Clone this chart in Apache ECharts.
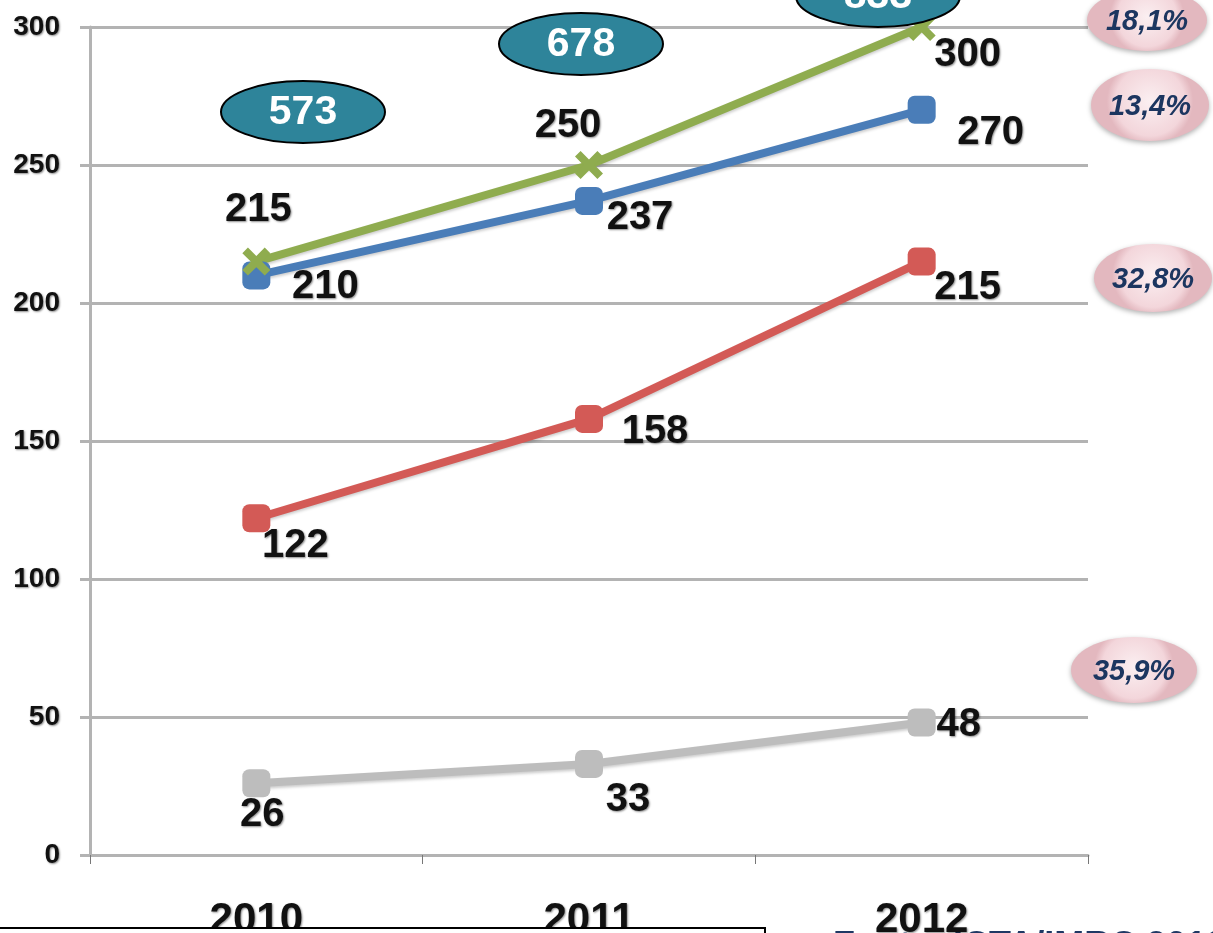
<!DOCTYPE html>
<html>
<head>
<meta charset="utf-8">
<script src="https://cdn.jsdelivr.net/npm/echarts@6/dist/echarts.min.js"></script>
<style>
  html, body { margin: 0; padding: 0; background: #fff; }
  #chart { width: 1213px; height: 933px; }
</style>
</head>
<body>
<div id="chart"></div>
<script>
// data
const years = ['2010', '2011', '2012'];
const greenVals = [215, 250, 300];
const blueVals = [210, 237, 270];
const redVals = [122, 158, 215];
const grayVals = [26, 33, 48];
const yTicks = { min: 0, max: 300, interval: 50 };
const growthLabels = ['18,1%', '13,4%', '32,8%', '35,9%'];
const sourceText = 'Fonte: ICTA/IMRC 2013';

// totals per year for the teal bubbles
const totals = years.map((y, i) => greenVals[i] + blueVals[i] + redVals[i] + grayVals[i]);

const FONT = 'Liberation Sans, Arial, sans-serif';

const labelFont = {
  fontFamily: FONT,
  fontWeight: 'bold',
  color: '#111',
  textShadowColor: 'rgba(0,0,0,0.45)',
  textShadowBlur: 2,
  textShadowOffsetX: 1,
  textShadowOffsetY: 1
};

// per point label offsets [dx, dy] from the marker centre
function withLabels(vals, offsets) {
  return vals.map((v, i) => ({
    value: v,
    label: { offset: offsets[i] }
  }));
}

function lineSeries(name, vals, color, symbol, offsets) {
  return {
    name: name,
    type: 'line',
    data: withLabels(vals, offsets),
    symbol: symbol,
    symbolSize: 28,
    lineStyle: {
      color: color, width: 8,
      shadowColor: 'rgba(0,0,0,0.2)', shadowBlur: 3, shadowOffsetY: 2
    },
    itemStyle: { color: color, borderWidth: 0 },
    label: Object.assign({
      show: true,
      position: 'inside',
      fontSize: 40,
      align: 'center',
      verticalAlign: 'middle'
    }, labelFont),
    emphasis: { disabled: true },
    clip: false,
    z: 3
  };
}

const xMark = 'path://M2,0 L5,3 L8,0 L10,2 L7,5 L10,8 L8,10 L5,7 L2,10 L0,8 L3,5 L0,2 Z';

const pinkFill = {
  type: 'radial', x: 0.5, y: 0.45, r: 0.6,
  colorStops: [
    { offset: 0, color: '#fbeff1' },
    { offset: 0.8, color: '#f3d6db' },
    { offset: 1, color: '#e3b8bf' }
  ]
};

function bubbleText(cx, cy, text, size, color, italic) {
  return {
    type: 'text',
    x: cx,
    y: cy,
    style: {
      text: text,
      fontFamily: FONT,
      fontWeight: 'bold',
      fontStyle: italic ? 'italic' : 'normal',
      fontSize: size,
      fill: color,
      align: 'center',
      verticalAlign: 'middle'
    },
    z: 55
  };
}

function pinkBubble(cx, cy, rx, ry, text) {
  return [{
    type: 'ellipse',
    shape: { cx: cx, cy: cy, rx: rx, ry: ry },
    style: {
      fill: pinkFill,
      shadowBlur: 5, shadowColor: 'rgba(0,0,0,0.3)', shadowOffsetY: 2
    },
    z: 50
  }, bubbleText(cx, cy + 2, text, 29, '#1c3660', true)];
}

function tealBubble(cx, cy, text) {
  return [{
    type: 'ellipse',
    shape: { cx: cx, cy: cy, rx: 82, ry: 31 },
    style: { fill: '#2e849a', stroke: '#000', lineWidth: 2 },
    z: 50
  }, bubbleText(cx, cy + 1, text, 41, '#fff', false)];
}

const chart = echarts.init(document.getElementById('chart'));

const option = {
  animation: false,
  backgroundColor: '#fff',
  grid: { left: 90, right: 125, top: 27, bottom: 78, outerBoundsMode: 'none', containLabel: false },
  xAxis: {
    type: 'category',
    data: years,
    boundaryGap: true,
    axisLine: { lineStyle: { color: '#b3b3b3', width: 3 } },
    axisTick: { show: true, length: 9, lineStyle: { color: '#777', width: 1 } },
    axisLabel: Object.assign({ fontSize: 42, margin: 44 }, labelFont),
    splitLine: { show: false }
  },
  yAxis: {
    type: 'value',
    min: yTicks.min,
    max: yTicks.max,
    interval: yTicks.interval,
    axisLine: { show: true, lineStyle: { color: '#b3b3b3', width: 3 } },
    axisTick: { show: true, length: 10, lineStyle: { color: '#b3b3b3', width: 3 } },
    axisLabel: Object.assign({ fontSize: 28, margin: 30 }, labelFont),
    splitLine: { lineStyle: { color: '#b3b3b3', width: 3 } }
  },
  series: [
    lineSeries('gray', grayVals, '#bdbdbd', 'roundRect',
      [[6, 32], [39, 36], [37, 2]]),
    lineSeries('red', redVals, '#d35a56', 'roundRect',
      [[39, 28], [66, 13], [46, 26]]),
    lineSeries('blue', blueVals, '#4a7db8', 'roundRect',
      [[69, 12], [51, 17], [69, 23]]),
    lineSeries('green', greenVals, '#8fac4f', xMark,
      [[2, -52], [-21, -39], [46, 28]])
  ],
  graphic: [].concat(
    {
      type: 'text',
      left: 833,
      top: 929,
      style: {
        text: sourceText,
        fontFamily: FONT,
        fontWeight: 'bold',
        fontSize: 36,
        fill: '#1f3864'
      },
      z: -10
    },
    tealBubble(303, 112, String(totals[0])),
    tealBubble(581, 44, String(totals[1])),
    tealBubble(878, -4, String(totals[2])),
    pinkBubble(1147, 20, 60, 31, growthLabels[0]),
    pinkBubble(1150, 105, 59, 36, growthLabels[1]),
    pinkBubble(1153, 278, 59, 34, growthLabels[2]),
    pinkBubble(1134, 670, 63, 33, growthLabels[3]),
    {
      type: 'rect',
      shape: { x: -2, y: 928, width: 767, height: 40 },
      style: { fill: '#fff', stroke: '#000', lineWidth: 2 },
      z: 60
    }
  )
};

chart.setOption(option);
</script>
</body>
</html>
